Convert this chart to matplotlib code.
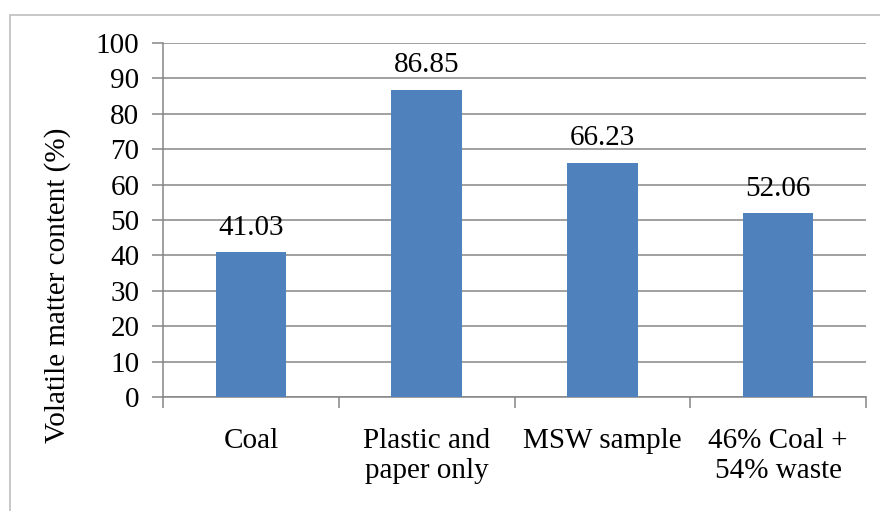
import matplotlib.pyplot as plt
from matplotlib.patches import Rectangle

plt.rcParams['font.family'] = ['Liberation Serif', 'DejaVu Serif']

categories = ['Coal', 'Plastic and\npaper only', 'MSW sample', '46% Coal +\n54% waste']
volatile = [41.03, 86.85, 66.23, 52.06]

GRID = '#868686'
BAR = '#4F81BD'
FS = 21
W, H = 880, 511

fig = plt.figure(figsize=(W / 100, H / 100), dpi=100)
ax = fig.add_axes([163 / W, 1 - 397 / H, 703 / W, 354 / H])

# outer chart border
fig.add_artist(Rectangle((10 / W, -0.1), 1.0, 1 - 15 / H + 0.1,
                         transform=fig.transFigure, fill=False,
                         edgecolor='#BFBFBF', linewidth=1.2))

x = range(len(categories))
ax.bar(x, volatile, width=0.4, color=BAR, zorder=3)
for xi, v in zip(x, volatile):
    ax.annotate(f'{v:.2f}', (xi, v), xytext=(0, 8), textcoords='offset points',
                ha='center', va='bottom', fontsize=FS)

ax.set_xlim(-0.5, len(categories) - 0.5)
ax.set_ylim(0, 100)
ax.set_yticks(range(0, 101, 10))
ax.yaxis.grid(True, color=GRID, linewidth=1.1, zorder=0)
ax.set_axisbelow(True)

ax.set_xticks([i - 0.5 for i in range(len(categories) + 1)], minor=False)
ax.set_xticklabels([])
ax.set_xticks(list(x), minor=True)
ax.set_xticklabels(categories, minor=True, fontsize=FS, linespacing=1.2)
ax.tick_params(axis='x', which='major', length=8, color=GRID, width=1.1)
ax.tick_params(axis='x', which='minor', length=0, pad=22)
ax.tick_params(axis='y', length=8, color=GRID, width=1.1, labelsize=FS, pad=9)

for side in ('top', 'right'):
    ax.spines[side].set_visible(False)
for side in ('left', 'bottom'):
    ax.spines[side].set_color(GRID)
    ax.spines[side].set_linewidth(1.1)

fig.text(58 / W, 1 - 285 / H, 'Volatile matter content (%)', rotation=90,
         ha='center', va='center', fontsize=FS)

fig.savefig('out.png', dpi=100)
